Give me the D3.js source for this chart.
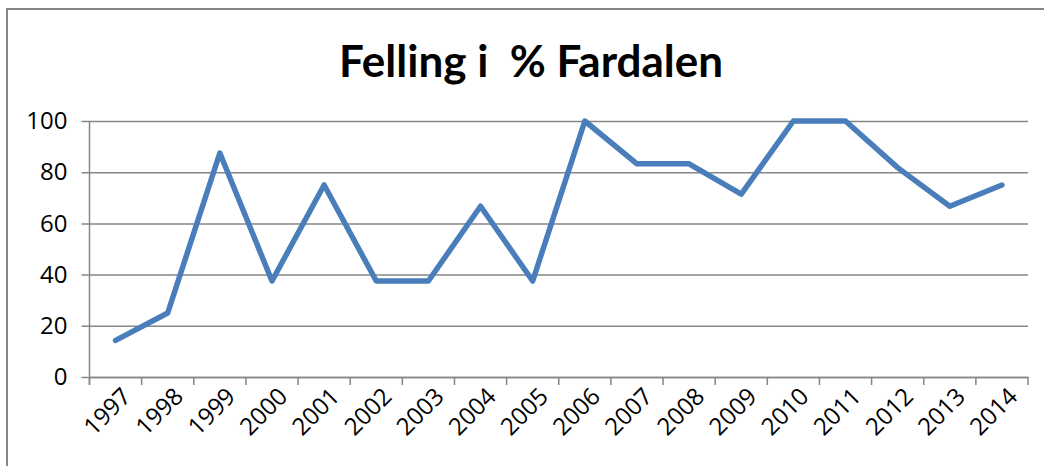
<!DOCTYPE html>
<html>
<head>
<meta charset="utf-8">
<script src="https://cdn.jsdelivr.net/npm/d3@7"></script>
<style>
  body { margin: 0; background: #fff; }
  svg { display: block; }
</style>
</head>
<body>
<div id="chart"></div>
<script>
	// Data
	const years = ["1997", "1998", "1999", "2000", "2001", "2002", "2003", "2004", "2005",
								 "2006", "2007", "2008", "2009", "2010", "2011", "2012", "2013", "2014"];
	const felling = [14.3, 25, 87.5, 37.5, 75, 37.5, 37.5, 66.7, 37.5,
									 100, 83.3, 83.3, 71.4, 100, 100, 81.8, 66.7, 75];
	const yTicks = [0, 20, 40, 60, 80, 100];
	const title = "Felling i  % Fardalen";

	// Layout
	const width = 1044,
				height = 466,
				plot = {left: 89.5, right: 1028, top: 121, bottom: 377};

	const svg = d3.select("#chart")
		.append("svg")
			.attr("width", width)
			.attr("height", height);

	// Outer chart border (right and bottom edges fall outside the crop)
	svg.append("rect")
		.attr("x", 7)
		.attr("y", 9)
		.attr("width", width + 20)
		.attr("height", height + 20)
		.attr("fill", "#fff")
		.attr("stroke", "#868686")
		.attr("stroke-width", 2);

	// Scales
	const x = d3.scaleBand()
		.domain(years)
		.range([plot.left, plot.right]);

	const y = d3.scaleLinear()
		.domain([0, 100])
		.range([plot.bottom, plot.top]);

	// Title
	svg.append("text")
		.attr("x", 531)
		.attr("y", 77)
		.attr("text-anchor", "middle")
		.style("white-space", "pre")
		.style("font-family", "Lato, 'Open Sans', sans-serif")
		.style("font-weight", "bold")
		.style("font-size", "44px")
		.attr("fill", "#000")
		.text(title);

	// Y axis with gridlines
	const yAxis = svg.append("g")
		.attr("transform", `translate(${plot.left}, 0)`)
		.call(d3.axisLeft(y)
			.tickValues(yTicks)
			.tickSize(8)
			.tickPadding(14));

	yAxis.select(".domain").remove();
	yAxis.selectAll(".tick line")
		.attr("stroke", "#868686")
		.attr("stroke-width", 1.5)
		.attr("x1", -8)
		.attr("x2", plot.right - plot.left);
	yAxis.selectAll(".tick text")
		.attr("fill", "#000")
		.style("font-family", "'Open Sans', sans-serif")
		.style("font-size", "24px");

	// Vertical axis line
	svg.append("line")
		.attr("x1", plot.left)
		.attr("x2", plot.left)
		.attr("y1", plot.top)
		.attr("y2", plot.bottom + 8)
		.attr("stroke", "#868686")
		.attr("stroke-width", 1.5);

	// X axis: ticks sit on the category boundaries
	const xAxis = svg.append("g")
		.attr("transform", `translate(0, ${plot.bottom})`)
		.call(d3.axisBottom(x).tickSize(0).tickFormat(""));

	xAxis.select(".domain")
		.attr("stroke", "#868686")
		.attr("stroke-width", 1.5);

	svg.append("g")
		.selectAll("line")
		.data(years.concat(["end"]))
		.enter()
		.append("line")
			.attr("x1", (d, i) => plot.left + i * x.step())
			.attr("x2", (d, i) => plot.left + i * x.step())
			.attr("y1", plot.bottom)
			.attr("y2", plot.bottom + 8)
			.attr("stroke", "#868686")
			.attr("stroke-width", 1.5);

	// Rotated category labels
	svg.append("g")
		.selectAll("text")
		.data(years)
		.enter()
		.append("text")
			.attr("transform", d => `translate(${x(d) + x.bandwidth() / 2 + 11}, 392) rotate(-45)`)
			.attr("text-anchor", "end")
			.attr("dy", "0.35em")
			.attr("fill", "#000")
			.style("font-family", "'Open Sans', sans-serif")
			.style("font-size", "24px")
			.text(d => d);

	// Line
	const line = d3.line()
		.x((d, i) => x(years[i]) + x.bandwidth() / 2)
		.y(d => y(d));

	svg.append("path")
		.datum(felling)
		.attr("fill", "none")
		.attr("stroke", "#4A7EBB")
		.attr("stroke-width", 5.5)
		.attr("stroke-linejoin", "round")
		.attr("stroke-linecap", "round")
		.attr("d", line);
</script>
</body>
</html>
